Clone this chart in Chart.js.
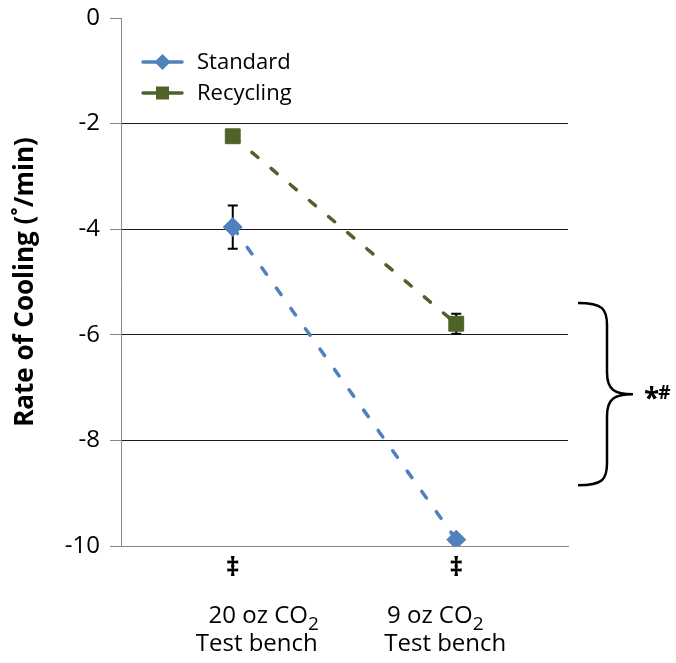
<!DOCTYPE html>
<html>
<head>
<meta charset="utf-8">
<script src="https://cdn.jsdelivr.net/npm/chart.js@4/dist/chart.umd.min.js"></script>
<style>
  html, body { margin: 0; padding: 0; background: #ffffff; }
  #wrap { width: 676px; height: 663px; }
</style>
</head>
<body>
<div id="wrap"><canvas id="chart" width="676" height="663"></canvas></div>
<script>
// Category labels (two lines each) and the mark printed above them
const categories = ['20 oz CO₂', '9 oz CO₂'];
const categorySubtitles = ['Test bench', 'Test bench'];
const categoryMarks = ['‡', '‡'];

// Rate of cooling, degrees per minute
const standardValues = [-3.96, -9.88];
const standardErrors = [0.41, 0];
const recyclingValues = [-2.24, -5.79];
const recyclingErrors = [0, 0.19];

const seriesNames = ['Standard', 'Recycling'];
const yTickValues = [0, -2, -4, -6, -8, -10];

// Bracket grouping the 9 oz results, with its significance marks
const bracketSpan = [-5.4, -8.85];
const bracketMarks = ['*', '#'];

const FONT = '"Open Sans", "Noto Sans", sans-serif';
const BLUE = '#4F81BD';
const GREEN = '#4F6228';

const SUBS = '₀₁₂₃₄₅₆₇₈₉';
function drawRichCentered(ctx, text, x, y, size) {
  const runs = [];
  for (const ch of text) {
    const i = SUBS.indexOf(ch);
    const sub = i >= 0;
    const c = sub ? String(i) : ch;
    if (runs.length && runs[runs.length - 1].sub === sub) runs[runs.length - 1].t += c;
    else runs.push({ t: c, sub });
  }
  let total = 0;
  runs.forEach(r => {
    ctx.font = `${r.sub ? Math.round(size * 0.78) : size}px ${FONT}`;
    r.w = ctx.measureText(r.t).width;
    total += r.w;
  });
  let cx = x - total / 2;
  ctx.textAlign = 'left';
  ctx.textBaseline = 'alphabetic';
  runs.forEach(r => {
    ctx.font = `${r.sub ? Math.round(size * 0.78) : size}px ${FONT}`;
    ctx.fillText(r.t, cx, r.sub ? y + size * 0.3 : y);
    cx += r.w;
  });
}

const errorBars = {
  id: 'errorBars',
  beforeDatasetsDraw(chart) {
    const { ctx, scales: { x, y } } = chart;
    const sets = [[standardValues, standardErrors], [recyclingValues, recyclingErrors]];
    ctx.save();
    ctx.strokeStyle = '#000';
    ctx.lineWidth = 2;
    sets.forEach(([vals, errs]) => {
      vals.forEach((v, i) => {
        const e = errs[i];
        if (!e) return;
        const px = x.getPixelForValue(i);
        const top = y.getPixelForValue(v + e);
        const bot = y.getPixelForValue(v - e);
        ctx.beginPath();
        ctx.moveTo(px, top); ctx.lineTo(px, bot);
        ctx.moveTo(px - 5, top); ctx.lineTo(px + 5, top);
        ctx.moveTo(px - 5, bot); ctx.lineTo(px + 5, bot);
        ctx.stroke();
      });
    });
    ctx.restore();
  }
};

const annotations = {
  id: 'annotations',
  afterDraw(chart) {
    const { ctx, scales: { x, y }, chartArea } = chart;
    ctx.save();
    ctx.fillStyle = '#000';

    // category marks and two-line category labels
    const lineOffsets = [[31, 24], [-21, -11]];
    categories.forEach((cat, i) => {
      const px = x.getPixelForValue(i);
      ctx.font = `bold 27px ${FONT}`;
      ctx.textAlign = 'center';
      ctx.textBaseline = 'middle';
      ctx.fillText(categoryMarks[i], px, chartArea.bottom + 22);
      drawRichCentered(ctx, cat, px + lineOffsets[i][0], chartArea.bottom + 77, 24);
      drawRichCentered(ctx, categorySubtitles[i], px + lineOffsets[i][1], chartArea.bottom + 105, 24);
    });

    // legend in the upper left of the plot
    chart.data.datasets.forEach((ds, i) => {
      const ly = chartArea.top + 44 + i * 31;
      const lx = chartArea.left + 22;
      ctx.strokeStyle = ds.borderColor;
      ctx.lineWidth = 3.5;
      ctx.lineCap = 'round';
      ctx.beginPath();
      ctx.moveTo(lx, ly); ctx.lineTo(lx + 39, ly);
      ctx.stroke();
      ctx.fillStyle = ds.borderColor;
      const s = 8;
      ctx.beginPath();
      if (ds.pointStyle === 'rectRot') {
        ctx.moveTo(lx + 19.5 - s, ly); ctx.lineTo(lx + 19.5, ly - s);
        ctx.lineTo(lx + 19.5 + s, ly); ctx.lineTo(lx + 19.5, ly + s);
      } else {
        ctx.rect(lx + 19.5 - 6.5, ly - 6.5, 13, 13);
      }
      ctx.closePath();
      ctx.fill();
      ctx.fillStyle = '#000';
      ctx.font = `22px ${FONT}`;
      ctx.textAlign = 'left';
      ctx.textBaseline = 'middle';
      ctx.fillText(ds.label, lx + 54, ly + 1);
    });

    // curly bracket to the right of the plot
    const yTop = y.getPixelForValue(bracketSpan[0]);
    const yBot = y.getPixelForValue(bracketSpan[1]);
    const yMid = (yTop + yBot) / 2;
    const x0 = chartArea.right + 10, x1 = chartArea.right + 39, x2 = chartArea.right + 65;
    ctx.strokeStyle = '#000';
    ctx.lineWidth = 2.5;
    ctx.lineCap = 'butt';
    ctx.beginPath();
    ctx.moveTo(x0, yTop);
    ctx.bezierCurveTo(x1 - 4, yTop, x1, yTop + 6, x1, yTop + 22);
    ctx.lineTo(x1, yMid - 22);
    ctx.bezierCurveTo(x1, yMid - 4, x1 + 8, yMid, x2, yMid);
    ctx.bezierCurveTo(x1 + 8, yMid, x1, yMid + 4, x1, yMid + 22);
    ctx.lineTo(x1, yBot - 22);
    ctx.bezierCurveTo(x1, yBot - 6, x1 - 4, yBot, x0, yBot);
    ctx.stroke();

    ctx.fillStyle = '#000';
    ctx.textAlign = 'left';
    ctx.textBaseline = 'alphabetic';
    ctx.font = `bold 28px ${FONT}`;
    ctx.fillText(bracketMarks[0], x2 + 11, yMid + 14);
    const w = ctx.measureText(bracketMarks[0]).width;
    ctx.font = `bold 19px ${FONT}`;
    ctx.fillText(bracketMarks[1], x2 + 11 + w - 1, yMid + 5);
    ctx.restore();
  }
};

new Chart(document.getElementById('chart'), {
  type: 'line',
  data: {
    labels: categories,
    datasets: [
      {
        label: seriesNames[0],
        data: standardValues,
        borderColor: BLUE,
        backgroundColor: BLUE,
        borderWidth: 3.5,
        borderDash: [8, 17],
        borderCapStyle: 'round',
        pointStyle: 'rectRot',
        pointRadius: 9.5,
        pointBorderWidth: 1,
        fill: false,
        tension: 0
      },
      {
        label: seriesNames[1],
        data: recyclingValues,
        borderColor: GREEN,
        backgroundColor: GREEN,
        borderWidth: 3.5,
        borderDash: [8, 17],
        borderCapStyle: 'round',
        pointStyle: 'rect',
        pointRadius: 10.5,
        pointBorderWidth: 1,
        fill: false,
        tension: 0
      }
    ]
  },
  options: {
    responsive: false,
    animation: false,
    events: [],
    layout: { padding: { top: 18, right: 108, left: 0, bottom: 0 } },
    plugins: { legend: { display: false }, tooltip: { enabled: false } },
    scales: {
      x: {
        type: 'category',
        offset: true,
        grid: { display: false, drawTicks: false },
        border: { display: true, color: '#888888', width: 1 },
        ticks: { display: false },
        afterFit(scale) { scale.height = 117; }
      },
      y: {
        min: -10,
        max: 0,
        afterBuildTicks(scale) { scale.ticks = yTickValues.map(v => ({ value: v })); },
        grid: {
          color: c => (c.tick && c.tick.value === 0) ? 'rgba(0,0,0,0)' : '#1a1a1a',
          tickColor: '#888888',
          tickLength: 11,
          lineWidth: 1
        },
        border: { display: true, color: '#888888', width: 1 },
        ticks: {
          color: '#000',
          font: { family: FONT, size: 24 },
          padding: 10,
          callback: v => String(v)
        },
        title: {
          display: true,
          text: 'Rate of Cooling (˚/min)',
          color: '#000',
          font: { family: FONT, size: 26, weight: 'bold' },
          padding: { top: 10, bottom: 0 }
        },
        afterFit(scale) {
          scale.width = 121;
          // the outer layout padding already leaves room for the end labels
          scale.paddingTop = 0;
          scale.paddingBottom = 0;
        }
      }
    }
  },
  plugins: [errorBars, annotations]
});
</script>
</body>
</html>
